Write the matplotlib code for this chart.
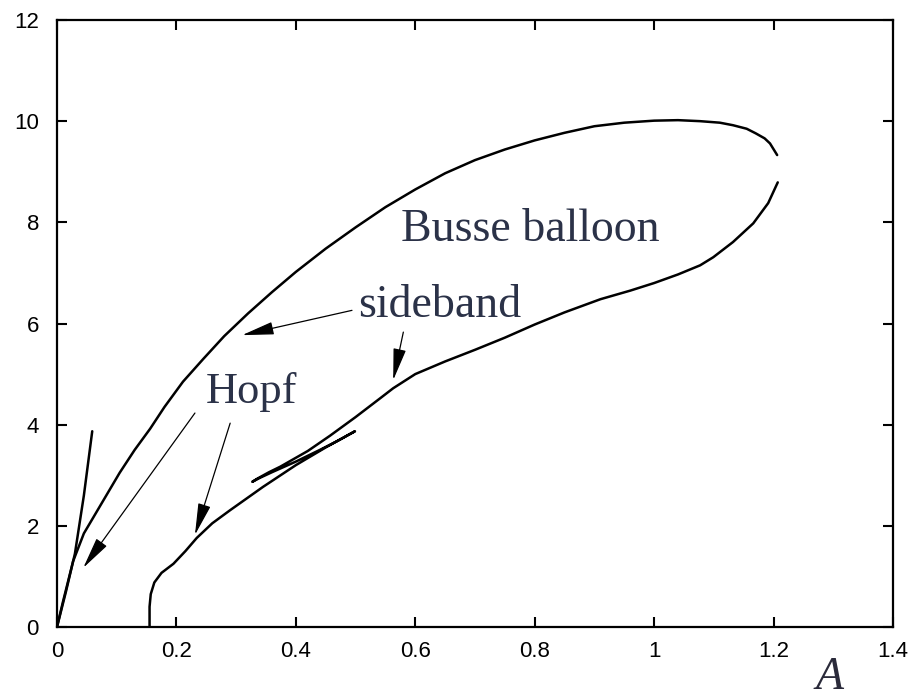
import matplotlib
matplotlib.use("Agg")
import matplotlib.pyplot as plt

# Upper (outer) boundary of the Busse balloon
A_upper = [0, 0.01, 0.027, 0.045, 0.06, 0.08, 0.105, 0.13, 0.156, 0.18, 0.211, 0.245,
           0.28, 0.32, 0.36, 0.40, 0.45, 0.50, 0.55, 0.60, 0.65, 0.70, 0.75, 0.80,
           0.85, 0.90, 0.95, 1.0, 1.04, 1.077, 1.11, 1.132, 1.155, 1.17, 1.185, 1.194, 1.206]
k_upper = [0, 0.5, 1.3, 1.85, 2.15, 2.55, 3.05, 3.5, 3.92, 4.35, 4.85, 5.3,
           5.75, 6.2, 6.62, 7.02, 7.48, 7.9, 8.3, 8.65, 8.97, 9.23, 9.44, 9.62,
           9.77, 9.9, 9.97, 10.01, 10.02, 10.0, 9.97, 9.92, 9.85, 9.76, 9.66, 9.56, 9.33]

# Steep Hopf branch near the origin
A_steep = [0, 0.015, 0.03, 0.045, 0.059]
k_steep = [0, 0.7, 1.45, 2.6, 3.87]

# Lower boundary (with the small fold)
A_lower = [0.155, 0.155, 0.157, 0.163, 0.175, 0.195, 0.215, 0.234, 0.26, 0.29, 0.345,
           0.40, 0.45, 0.499,
           0.47, 0.44, 0.40, 0.36, 0.34, 0.327, 0.335, 0.355, 0.374, 0.42, 0.457,
           0.5, 0.541, 0.563, 0.6, 0.65, 0.7, 0.75, 0.8, 0.85, 0.91, 0.96, 1.0,
           1.04, 1.077, 1.099, 1.132, 1.166, 1.191, 1.207]
k_lower = [0, 0.4, 0.65, 0.88, 1.07, 1.25, 1.5, 1.76, 2.05, 2.31, 2.77,
           3.2, 3.55, 3.87,
           3.68, 3.5, 3.27, 3.06, 2.95, 2.87, 2.93, 3.06, 3.17, 3.48, 3.78,
           4.15, 4.52, 4.72, 5.0, 5.25, 5.48, 5.72, 5.98, 6.22, 6.48, 6.65, 6.8,
           6.97, 7.15, 7.31, 7.61, 7.98, 8.38, 8.79]

x_ticks = [0, 0.2, 0.4, 0.6, 0.8, 1.0, 1.2, 1.4]
x_ticklabels = ["0", "0.2", "0.4", "0.6", "0.8", "1", "1.2", "1.4"]
y_ticks = [0, 2, 4, 6, 8, 10, 12]
y_ticklabels = ["0", "2", "4", "6", "8", "10", "12"]

fig = plt.figure(figsize=(9.11, 6.99), dpi=100)
ax = fig.add_axes([57/911, 1-627/699, (893-57)/911, (627-20)/699])

lc = "black"
for xs, ys in [(A_upper, k_upper), (A_steep, k_steep), (A_lower, k_lower)]:
    ax.plot(xs, ys, color=lc, lw=1.8, solid_joinstyle="round", solid_capstyle="round")

ax.set_xlim(0, 1.4)
ax.set_ylim(0, 12)
ax.set_xticks(x_ticks)
ax.set_xticklabels(x_ticklabels)
ax.set_yticks(y_ticks)
ax.set_yticklabels(y_ticklabels)
ax.tick_params(direction="in", top=True, right=True, length=7, width=1.5,
               labelsize=16, colors="black")
ax.tick_params(axis="x", pad=10)
ax.tick_params(axis="y", pad=13)
for lab in ax.get_xticklabels() + ax.get_yticklabels():
    lab.set_fontfamily("Liberation Sans")
for s in ax.spines.values():
    s.set_linewidth(1.6)

tc = "#2b3248"
serif = "Liberation Serif"
ax.text(0.792, 7.85, "Busse balloon", fontsize=33, family=serif, color=tc,
        ha="center", va="center")
ax.text(0.641, 6.36, "sideband", fontsize=33, family=serif, color=tc,
        ha="center", va="center")
ax.text(0.325, 4.64, "Hopf", fontsize=32, family=serif, color=tc,
        ha="center", va="center")

aprops = dict(arrowstyle="-|>,head_length=1.1,head_width=0.22", color="black",
              lw=0.9, shrinkA=0, shrinkB=0, mutation_scale=18)
ax.annotate("", xy=(0.31, 5.77), xytext=(0.494, 6.26), arrowprops=aprops)
ax.annotate("", xy=(0.563, 4.88), xytext=(0.58, 5.83), arrowprops=aprops)
ax.annotate("", xy=(0.044, 1.17), xytext=(0.231, 4.23), arrowprops=aprops)
ax.annotate("", xy=(0.231, 1.82), xytext=(0.29, 4.03), arrowprops=aprops)

fig.text(830/911, 1-678/699, "A", fontsize=33, family=serif, style="italic",
         color="#2a2a3a", ha="center", va="center")

fig.savefig("out.png", dpi=100)
